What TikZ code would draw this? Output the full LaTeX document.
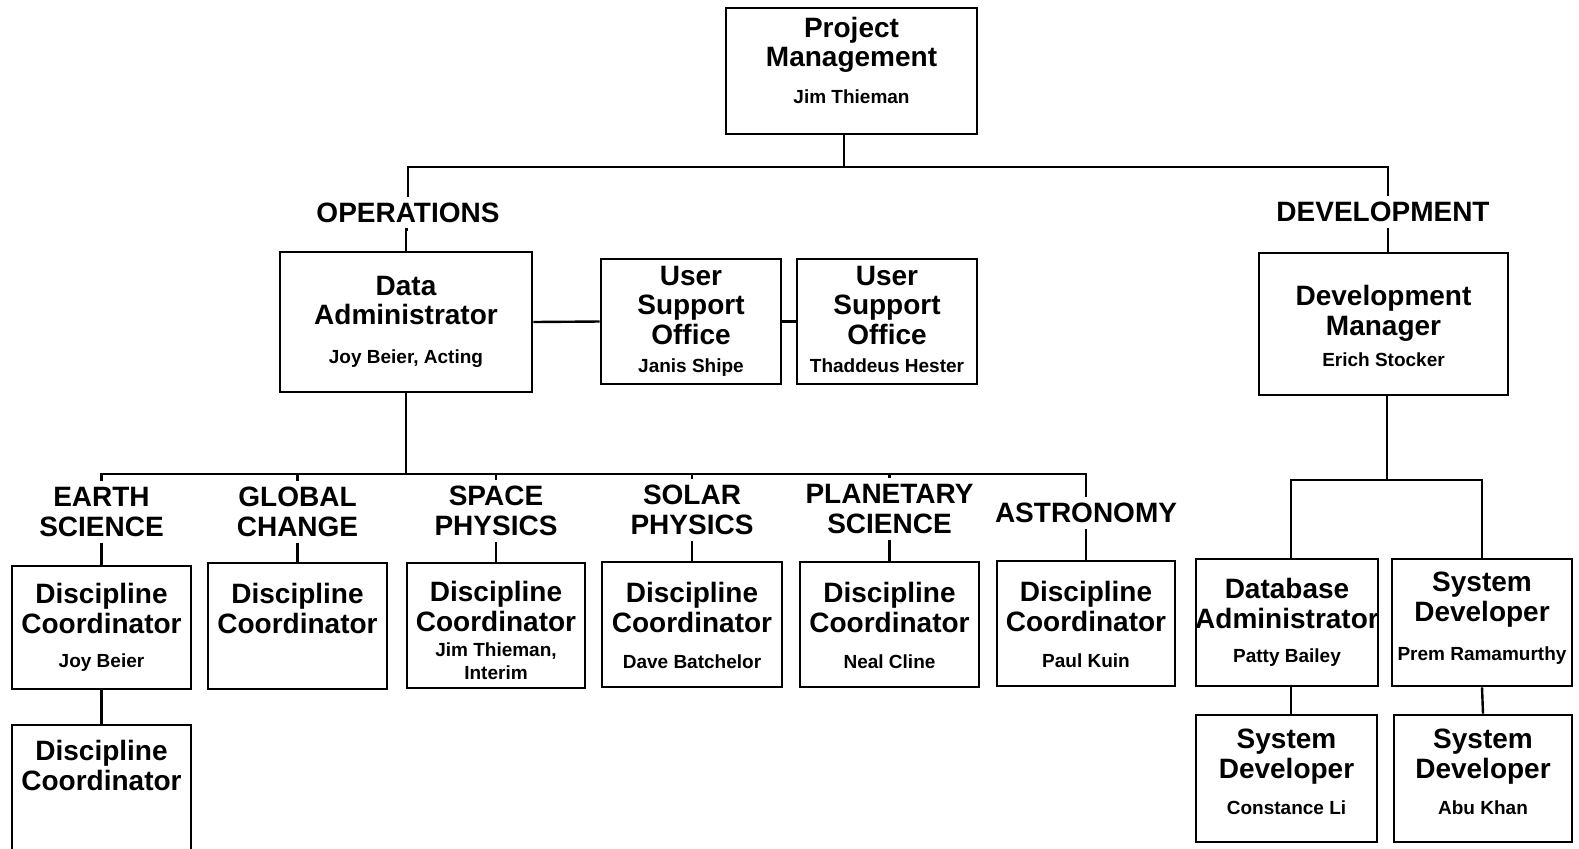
\documentclass[tikz,border=0pt]{standalone}
\usepackage{fontspec}
\setmainfont{Liberation Sans}
\usetikzlibrary{fit}
\newcommand\ttl{\fontsize{14}{14.8}\selectfont\bfseries}
\newcommand\nm{\fontsize{9.5}{11}\selectfont\bfseries}
\tikzset{
  box/.style={draw, line width=1.3pt, inner sep=0pt},
  txt/.style={inner sep=0pt, align=center, font=\ttl, anchor=north},
  cat/.style={inner sep=3pt, align=center, font=\ttl},
  conn/.style={line width=1.2pt}
}
\begin{document}
\begin{tikzpicture}[x=0.5pt, y=-0.5pt]
\useasboundingbox (0,0) rectangle (1579,848);
% top-level boxes
\node[box, fit={(726,8) (977,134)}] (pm) {};
\node[txt] (pmt) at ([yshift=-5pt]pm.north) {Project\\Management\\[3.7pt]{\nm Jim Thieman}};
\node[box, fit={(280,252) (532,392)}] (da) {};
\node[txt] (dat) at ([yshift=-12.5pt]da.north) {Data\\Administrator\\[4.7pt]{\nm Joy Beier, Acting}};
\node[box, fit={(601,259) (781,384)}] (uso1) {};
\node[txt] (uso1t) at ([yshift=-4pt]uso1.north) {User\\Support\\Office\\[-0.8pt]{\nm Janis Shipe}};
\node[box, fit={(797,259) (977,384)}] (uso2) {};
\node[txt] (uso2t) at ([yshift=-4pt]uso2.north) {User\\Support\\Office\\[-0.8pt]{\nm Thaddeus Hester}};
\node[box, fit={(1259,253) (1508,395)}] (dm) {};
\node[txt] (dmt) at ([yshift=-16.5pt]dm.north) {Development\\Manager\\[0.7pt]{\nm Erich Stocker}};
% branch labels
\node[cat] (ops) at (408,213) {OPERATIONS};
\node[cat] (dev) at (1383,212) {DEVELOPMENT};
% discipline boxes
\node[box, fit={(12,566) (191,689)}] (d1) {};
\node[txt] (d1t) at ([yshift=-9pt]d1.north) {Discipline\\Coordinator\\[2.5pt]{\nm Joy Beier}};
\node[box, fit={(208,563) (387,689)}] (d2) {};
\node[txt] (d2t) at ([yshift=-10.5pt]d2.north) {Discipline\\Coordinator};
\node[box, fit={(407,563) (585,688)}] (d3) {};
\node[txt] (d3t) at ([yshift=-9.5pt]d3.north) {Discipline\\Coordinator\\[-2.3pt]{\nm Jim Thieman,}\\[-3.3pt]{\nm Interim}};
\node[box, fit={(602,562) (782,687)}] (d4) {};
\node[txt] (d4t) at ([yshift=-10.5pt]d4.north) {Discipline\\Coordinator\\[3.2pt]{\nm Dave Batchelor}};
\node[box, fit={(800,562) (979,687)}] (d5) {};
\node[txt] (d5t) at ([yshift=-10.5pt]d5.north) {Discipline\\Coordinator\\[3.2pt]{\nm Neal Cline}};
\node[box, fit={(997,561) (1175,686)}] (d6) {};
\node[txt] (d6t) at ([yshift=-10.5pt]d6.north) {Discipline\\Coordinator\\[3.2pt]{\nm Paul Kuin}};
\node[box, fit={(12,725) (191,856)}] (d7) {};
\node[txt] (d7t) at ([yshift=-8pt]d7.north) {Discipline\\Coordinator};
% discipline labels
\node[cat] (l1) at (101.5,512) {EARTH\\SCIENCE};
\node[cat] (l2) at (297.5,512) {GLOBAL\\CHANGE};
\node[cat] (l3) at (496,511) {SPACE\\PHYSICS};
\node[cat] (l4) at (692,510) {SOLAR\\PHYSICS};
\node[cat] (l5) at (889.5,509) {PLANETARY\\SCIENCE};
\node[cat] (l6) at (1086,513) {ASTRONOMY};
% development boxes
\node[box, fit={(1196,559) (1378,686)}] (dba) {};
\node[txt] (dbat) at ([yshift=-10pt]dba.north) {Database\\Administrator\\[2.2pt]{\nm Patty Bailey}};
\node[box, fit={(1392,559) (1572,686)}] (sd1) {};
\node[txt] (sd1t) at ([yshift=-7pt]sd1.north) {System\\Developer\\[4.7pt]{\nm Prem Ramamurthy}};
\node[box, fit={(1196,715) (1377,842)}] (sdc) {};
\node[txt] (sdct) at ([yshift=-7.5pt]sdc.north) {System\\Developer\\[3.5pt]{\nm Constance Li}};
\node[box, fit={(1394,715) (1572,842)}] (sda) {};
\node[txt] (sdat) at ([yshift=-7.5pt]sda.north) {System\\Developer\\[3.5pt]{\nm Abu Khan}};
% coordinates
\coordinate (top) at (844,167);
\coordinate (devx) at (1388,167);
\coordinate (bus) at (407,474);
\coordinate (dbus) at (1387,480);
\coordinate (dbx) at (1291,480);
% connectors
\draw[conn] (top |- pm.south) -- (top);
\draw[conn] (ops.north) -- (ops.north |- top) -- (devx) -- (devx |- dev.north);
\draw[conn] (ops.south) -- (ops.south -| da.north) -- (da.north);
\draw[conn] (devx |- dev.south) -- (devx |- dm.north);
\draw[conn] (da.east) -- (uso1.west);
\draw[conn] (uso1.east) -- (uso2.west);
\draw[conn] (da.south) -- (da.south |- bus);
\draw[conn] (l1.north) -- (l1.north |- bus) -- (l6.north |- bus) -- (l6.north);
\foreach \i in {2,3,4,5}{\draw[conn] (l\i.north) -- (l\i.north |- bus);}
\foreach \i in {1,...,6}{\draw[conn] (l\i.south) -- (d\i.north);}
\draw[conn] (d1.south) -- (d7.north);
\draw[conn] (dbus |- dm.south) -- (dbus);
\draw[conn] (dbx |- dba.north) -- (dbx) -- (sd1.north |- dbus) -- (sd1.north);
\draw[conn] (dbx |- dba.south) -- (dbx |- sdc.north);
\draw[conn] (sd1.south) -- (sda.north);
\end{tikzpicture}
\end{document}
